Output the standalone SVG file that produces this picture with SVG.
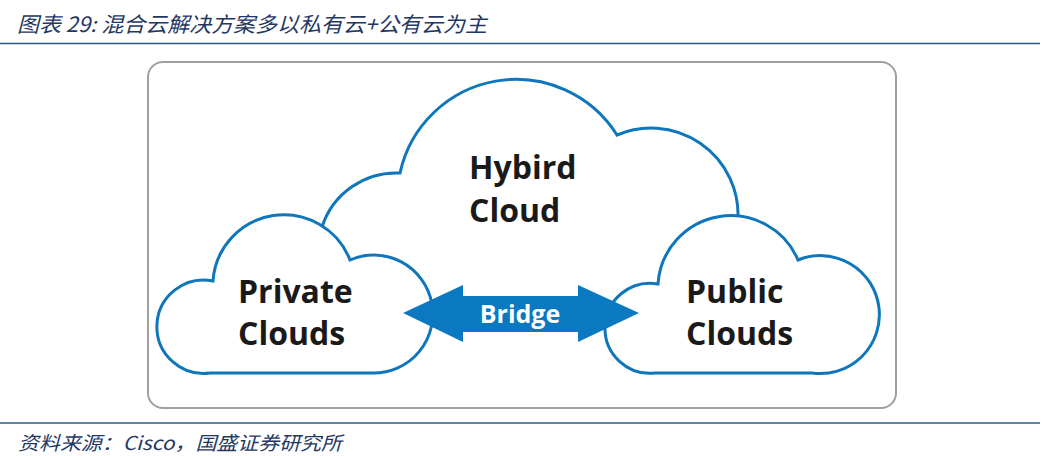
<svg xmlns="http://www.w3.org/2000/svg" width="1044" height="456" viewBox="0 0 1044 456">
<style>
.hdr{font-family:"Noto Sans CJK SC","Noto Sans",sans-serif;font-style:italic;fill:#1f3864}
.rule{stroke:#2a5a8c;stroke-width:1.5;fill:none}
.cloud{fill:#ffffff;stroke:#0f76bc;stroke-width:3;stroke-linejoin:miter}
.lbl{font-family:"Open Sans","Noto Sans",sans-serif;font-weight:700;font-size:32px;fill:#1a1a1a}
.brg{font-family:"Open Sans","Noto Sans",sans-serif;font-weight:700;font-size:25px;fill:#ffffff}
</style>
<rect width="1044" height="456" fill="#ffffff"/>
<text class="hdr" x="17" y="32" font-size="21" textLength="470" lengthAdjust="spacingAndGlyphs">图表 29:  混合云解决方案多以私有云+公有云为主</text>
<line class="rule" x1="0" y1="43.5" x2="1040" y2="43.5"/>
<line class="rule" x1="0" y1="423" x2="1040" y2="423"/>
<text class="hdr" x="18" y="450" font-size="19" textLength="324" lengthAdjust="spacingAndGlyphs">资料来源：Cisco，国盛证券研究所</text>
<g id="frame">
<rect x="148" y="62" width="748" height="346" rx="15" ry="15" fill="#ffffff" stroke="#a0a0a0" stroke-width="2"/>
</g>
<g id="hybrid-cloud">
<path class="cloud" fill="none" d="M 322 227 A 78 78 0 0 1 400 173 A 119 119 0 0 1 617 135 A 87 87 0 0 1 738 218"/>
<text class="lbl" x="469" y="179">Hybird</text>
<text class="lbl" x="469" y="222">Cloud</text>
</g>
<g id="private-cloud">
<path class="cloud" d="M 210 373 A 46.7 46.7 0 1 1 213 281 A 71 71 0 0 1 350 260 A 59 59 0 1 1 373 373 Z"/>
<text class="lbl" x="238" y="303">Private</text>
<text class="lbl" x="238" y="345">Clouds</text>
</g>
<g id="public-cloud">
<path class="cloud" d="M 655 373 A 45 45 0 1 1 658 284 A 73 73 0 0 1 798 260 A 59 59 0 1 1 812 373 Z"/>
<text class="lbl" x="686" y="303">Public</text>
<text class="lbl" x="686" y="345">Clouds</text>
</g>
<g id="connectors">
<polygon points="403,313 463,285 463,296 578,296 578,285 639,313 578,342 578,332 463,332 463,342" fill="#0b78c2"/>
<text class="brg" x="520" y="323" text-anchor="middle">Bridge</text>
</g>
</svg>
